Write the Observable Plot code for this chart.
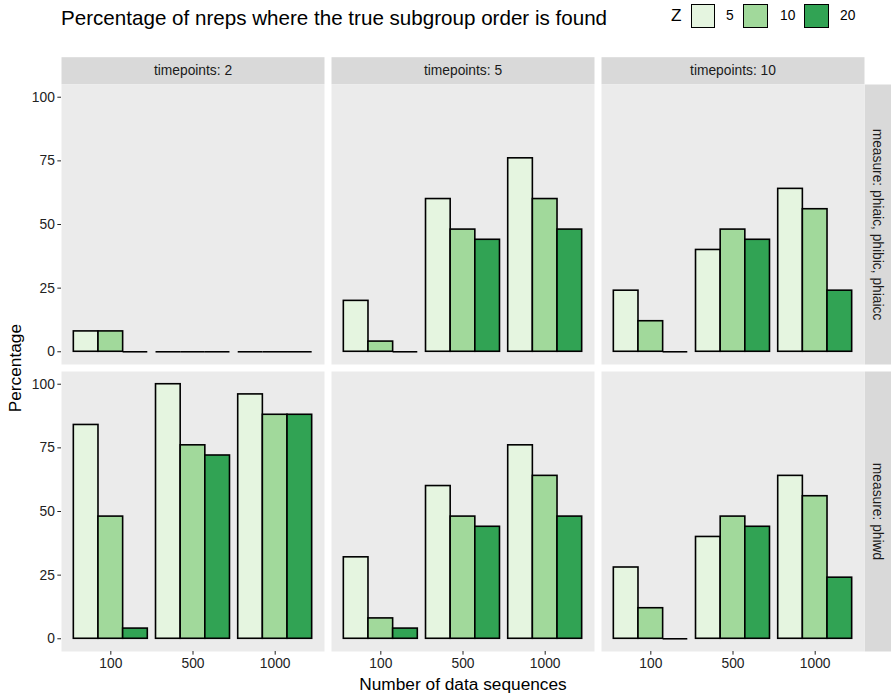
<!DOCTYPE html>
<html>
<head>
<meta charset="utf-8">
<script src="https://cdn.jsdelivr.net/npm/d3@7"></script>
<script src="https://cdn.jsdelivr.net/npm/@observablehq/plot@0.6"></script>
<style>
  html, body { margin: 0; padding: 0; background: #ffffff; }
  body { width: 891px; height: 696px; overflow: hidden; font-family: "Liberation Sans", Arial, sans-serif; }
  #header { position: relative; width: 891px; height: 50px; }
  #title { position: absolute; left: 61px; top: 6px; font-size: 20.6px; line-height: 24px; color: #000; white-space: nowrap; }
  .lg-title { position: absolute; top: 5px; font-size: 17.2px; line-height: 20px; color: #000; }
  .lg-key { position: absolute; top: 3.5px; width: 22.6px; height: 22.6px; border: 1.6px solid #000; }
  .lg-text { position: absolute; top: 8px; font-size: 13.8px; line-height: 16px; color: #000; }
</style>
</head>
<body>
<div id="header">
  <div id="title">Percentage of nreps where the true subgroup order is found</div>
  <div id="legend"></div>
</div>
<div id="chart"></div>
<script>
// ---- data ----
const timepoints = [2, 5, 10];
const measures = ["phiaic, phibic, phiaicc", "phiwd"];
const nseq = [100, 500, 1000];
const zs = [5, 10, 20];
const zColors = ["#e5f5e0", "#a1d99b", "#31a354"];
const yTicks = [0, 25, 50, 75, 100];

// values ordered: N=100 (Z5,Z10,Z20), N=500 (...), N=1000 (...)
const aic_t2  = [8, 8, 0,    0, 0, 0,     0, 0, 0];
const aic_t5  = [20, 4, 0,   60, 48, 44,  76, 60, 48];
const aic_t10 = [24, 12, 0,  40, 48, 44,  64, 56, 24];
const wd_t2   = [84, 48, 4,  100, 76, 72, 96, 88, 88];
const wd_t5   = [32, 8, 4,   60, 48, 44,  76, 64, 48];
const wd_t10  = [28, 12, 0,  40, 48, 44,  64, 56, 24];

const series = [
  [measures[0], timepoints[0], aic_t2],
  [measures[0], timepoints[1], aic_t5],
  [measures[0], timepoints[2], aic_t10],
  [measures[1], timepoints[0], wd_t2],
  [measures[1], timepoints[1], wd_t5],
  [measures[1], timepoints[2], wd_t10]
];

const data = [];
for (const [m, t, vals] of series) {
  nseq.forEach((n, i) => {
    zs.forEach((z, j) => {
      data.push({measure: m, timepoints: t, N: n, Ni: i, Z: z, Zi: j, value: vals[i * zs.length + j]});
    });
  });
}

// ---- legend (HTML, above the SVG) ----
const legend = document.getElementById("legend");
const lgT = document.createElement("div");
lgT.className = "lg-title"; lgT.style.left = "671px"; lgT.textContent = "Z";
legend.appendChild(lgT);
const keyLeft = [690.5, 743, 804];
const txtLeft = [726, 780, 840];
zs.forEach((z, j) => {
  const k = document.createElement("div");
  k.className = "lg-key"; k.style.left = keyLeft[j] + "px"; k.style.background = zColors[j];
  legend.appendChild(k);
  const t = document.createElement("div");
  t.className = "lg-text"; t.style.left = txtLeft[j] + "px"; t.textContent = String(z);
  legend.appendChild(t);
});

// ---- layout ----
const W = 891, H = 646;
const mL = 60, mR = 26.7, mT = 33.6, mB = 44.6;
const gap = 7.33;
const innerW = W - mL - mR, innerH = H - mT - mB;
const padX = gap / ((innerW + gap) / timepoints.length);
const padY = gap / ((innerH + gap) / measures.length);
const facetW = (innerW - gap * (timepoints.length - 1)) / timepoints.length;
const facetH = (innerH - gap * (measures.length - 1)) / measures.length;
const stripTop = 27.3, stripRight = 26.7;
const barW = 0.9 / zs.length;

const chart = Plot.plot({
  width: W,
  height: H,
  marginLeft: mL, marginRight: mR, marginTop: mT, marginBottom: mB,
  style: {fontFamily: "Liberation Sans, Arial, sans-serif", fontSize: "13.8px", background: "#ffffff", color: "#1a1a1a"},
  fx: {domain: timepoints, padding: padX, axis: null},
  fy: {domain: measures, padding: padY, axis: null},
  x: {domain: [0.4, 3.6], axis: null},
  y: {domain: [-5, 105], axis: null},
  color: {type: "ordinal", domain: zs, range: zColors},
  marks: [
    Plot.frame({fill: "#ebebeb"}),
    Plot.frame({facetAnchor: "top", fill: "#d9d9d9", insetTop: -stripTop, insetBottom: facetH}),
    Plot.frame({facetAnchor: "right", fill: "#d9d9d9", insetRight: -stripRight, insetLeft: facetW}),
    Plot.text(timepoints, {fx: d => d, fy: () => measures[0], text: d => "timepoints: " + d,
      frameAnchor: "top", textAnchor: "middle", lineAnchor: "middle", dy: -stripTop / 2,
      fill: "#1a1a1a", fontSize: 13.8}),
    Plot.text(measures, {fy: d => d, fx: () => timepoints[timepoints.length - 1], text: d => "measure: " + d,
      frameAnchor: "right", textAnchor: "middle", lineAnchor: "middle", dx: stripRight / 2, rotate: 90,
      fill: "#1a1a1a", fontSize: 13.8}),
    Plot.rect(data, {
      fx: "timepoints", fy: "measure",
      x1: d => d.Ni + 1 - 0.45 + d.Zi * barW,
      x2: d => d.Ni + 1 - 0.45 + (d.Zi + 1) * barW,
      y1: () => 0, y2: "value",
      fill: "Z", stroke: "#000", strokeWidth: 1.6
    }),
    Plot.ruleY(data.filter(d => d.value === 0), {
      fx: "timepoints", fy: "measure",
      x1: d => d.Ni + 1 - 0.45 + d.Zi * barW,
      x2: d => d.Ni + 1 - 0.45 + (d.Zi + 1) * barW,
      y: "value", stroke: "#000", strokeWidth: 1.6
    }),
    Plot.axisY({ticks: yTicks, tickSize: 3.67, tickPadding: 3, label: null, color: "#222222", fontSize: 13.8}),
    Plot.axisX({ticks: [1, 2, 3], tickFormat: d => String(nseq[d - 1]), tickSize: 3.67, tickPadding: 3,
      label: null, color: "#222222", fontSize: 13.8}),
    Plot.text(["Percentage"], {fx: () => timepoints[0], fy: () => measures[0], text: d => d,
      frameAnchor: "bottom-left", textAnchor: "middle", lineAnchor: "middle",
      dx: -46.5, dy: gap / 2, rotate: -90, fontSize: 17.3, fill: "#000"}),
    Plot.text(["Number of data sequences"], {fx: () => timepoints[1], fy: () => measures[1], text: d => d,
      frameAnchor: "bottom", textAnchor: "middle", lineAnchor: "middle", dy: 32.6, fontSize: 17.3, fill: "#000"})
  ]
});
document.getElementById("chart").appendChild(chart);
</script>
</body>
</html>
